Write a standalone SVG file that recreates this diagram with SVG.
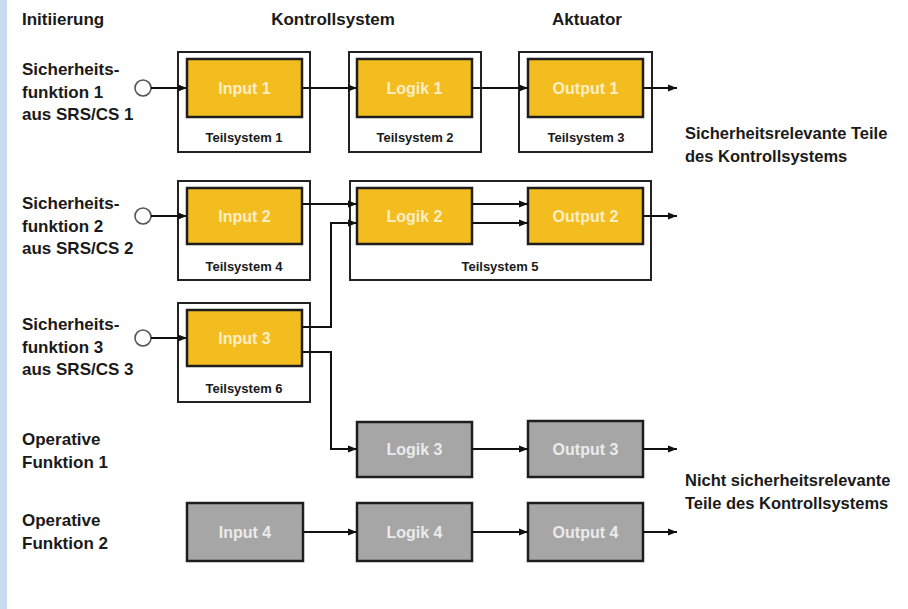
<svg xmlns="http://www.w3.org/2000/svg" width="908" height="609" viewBox="0 0 908 609">
<defs>
<marker id="ah" markerWidth="10" markerHeight="8" refX="9" refY="4" orient="auto" markerUnits="userSpaceOnUse">
<path d="M0,0.5 L9,4 L0,7.5 Z" fill="#111"/>
</marker>
<style>
.lbl{font-family:"Liberation Sans",Arial,sans-serif;font-weight:bold;font-size:17px;fill:#1a1a1a}
.hdr{font-family:"Liberation Sans",Arial,sans-serif;font-weight:bold;font-size:16.5px;fill:#1a1a1a}
.ts{font-family:"Liberation Sans",Arial,sans-serif;font-weight:bold;font-size:13px;fill:#1a1a1a;text-anchor:middle}
.bt{font-family:"Liberation Sans",Arial,sans-serif;font-weight:bold;font-size:16px;text-anchor:middle}
.outer{fill:#fff;stroke:#222;stroke-width:2}
.yel{fill:#f4bd1f;stroke:#1e1e1e;stroke-width:2.5}
.gry{fill:#a6a6a6;stroke:#1e1e1e;stroke-width:2.5}
.yt{fill:#fcefc6}
.gt{fill:#ebebeb}
.con{fill:none;stroke:#111;stroke-width:2;marker-end:url(#ah)}
.circ{fill:#fff;stroke:#555;stroke-width:1.6}
</style>
</defs>
<rect x="0" y="0" width="908" height="609" fill="#fff"/>
<rect x="0" y="0" width="7" height="609" fill="#c9dbf0"/>

<g id="headers">
<text class="lbl" x="22" y="25">Initiierung</text>
<text class="lbl" x="333" y="25" text-anchor="middle">Kontrollsystem</text>
<text class="lbl" x="587" y="25" text-anchor="middle">Aktuator</text>
</g>

<g id="labels-left">
<text class="lbl" x="22" y="75">Sicherheits-</text>
<text class="lbl" x="22" y="97.5">funktion 1</text>
<text class="lbl" x="22" y="120">aus SRS/CS 1</text>
<text class="lbl" x="22" y="209">Sicherheits-</text>
<text class="lbl" x="22" y="231.5">funktion 2</text>
<text class="lbl" x="22" y="254">aus SRS/CS 2</text>
<text class="lbl" x="22" y="330">Sicherheits-</text>
<text class="lbl" x="22" y="352.5">funktion 3</text>
<text class="lbl" x="22" y="375">aus SRS/CS 3</text>
<text class="lbl" x="22" y="445">Operative</text>
<text class="lbl" x="22" y="467.5">Funktion 1</text>
<text class="lbl" x="22" y="526">Operative</text>
<text class="lbl" x="22" y="548.5">Funktion 2</text>
</g>

<g id="labels-right">
<text class="hdr" x="685" y="139">Sicherheitsrelevante Teile</text>
<text class="hdr" x="685" y="162">des Kontrollsystems</text>
<text class="hdr" x="685" y="486">Nicht sicherheitsrelevante</text>
<text class="hdr" x="685" y="509">Teile des Kontrollsystems</text>
</g>

<g id="teilsystem1"><rect class="outer" x="178" y="52" width="132" height="100"/><text class="ts" x="244" y="142">Teilsystem 1</text></g>
<g id="teilsystem2"><rect class="outer" x="349" y="52" width="132" height="100"/><text class="ts" x="415" y="142">Teilsystem 2</text></g>
<g id="teilsystem3"><rect class="outer" x="519" y="52" width="133" height="100"/><text class="ts" x="586" y="142">Teilsystem 3</text></g>
<g id="teilsystem4"><rect class="outer" x="178" y="181" width="132" height="99"/><text class="ts" x="244" y="271">Teilsystem 4</text></g>
<g id="teilsystem5"><rect class="outer" x="350" y="181" width="301" height="99"/><text class="ts" x="500" y="271">Teilsystem 5</text></g>
<g id="teilsystem6"><rect class="outer" x="178" y="303" width="132" height="99"/><text class="ts" x="244" y="393">Teilsystem 6</text></g>

<g id="input1"><rect class="yel" x="187" y="59" width="115" height="58"/><text class="bt yt" x="244.5" y="94">Input 1</text></g>
<g id="logik1"><rect class="yel" x="357" y="59" width="115" height="58"/><text class="bt yt" x="414.5" y="94">Logik 1</text></g>
<g id="output1"><rect class="yel" x="528" y="59" width="115" height="58"/><text class="bt yt" x="585.5" y="94">Output 1</text></g>
<g id="input2"><rect class="yel" x="187" y="188" width="115" height="56"/><text class="bt yt" x="244.5" y="222">Input 2</text></g>
<g id="logik2"><rect class="yel" x="357" y="188" width="115" height="56"/><text class="bt yt" x="414.5" y="222">Logik 2</text></g>
<g id="output2"><rect class="yel" x="528" y="188" width="115" height="56"/><text class="bt yt" x="585.5" y="222">Output 2</text></g>
<g id="input3"><rect class="yel" x="187" y="310" width="115" height="56"/><text class="bt yt" x="244.5" y="344">Input 3</text></g>
<g id="logik3"><rect class="gry" x="357" y="422" width="115" height="55"/><text class="bt gt" x="414.5" y="455">Logik 3</text></g>
<g id="output3"><rect class="gry" x="528" y="421" width="115" height="56"/><text class="bt gt" x="585.5" y="455">Output 3</text></g>
<g id="input4"><rect class="gry" x="187" y="503" width="116" height="58"/><text class="bt gt" x="245" y="538">Input 4</text></g>
<g id="logik4"><rect class="gry" x="357" y="503" width="115" height="58"/><text class="bt gt" x="414.5" y="538">Logik 4</text></g>
<g id="output4"><rect class="gry" x="528" y="503" width="115" height="58"/><text class="bt gt" x="585.5" y="538">Output 4</text></g>

<g id="start1"><circle class="circ" cx="143" cy="88" r="8"/></g>
<g id="start2"><circle class="circ" cx="143" cy="216" r="8"/></g>
<g id="start3"><circle class="circ" cx="143" cy="338" r="8"/></g>

<g id="connectors">
<path class="con" d="M151,88 H187"/>
<path class="con" d="M302,88 H357"/>
<path class="con" d="M472,88 H528"/>
<path class="con" d="M643,88 H677"/>
<path class="con" d="M151,216 H187"/>
<path class="con" d="M302,204 H357"/>
<path class="con" d="M302,327 H331 V223 H357"/>
<path class="con" d="M472,204 H528"/>
<path class="con" d="M472,223 H528"/>
<path class="con" d="M643,216 H677"/>
<path class="con" d="M151,338 H187"/>
<path class="con" d="M302,352 H331 V449 H357"/>
<path class="con" d="M472,449 H528"/>
<path class="con" d="M643,449 H677"/>
<path class="con" d="M303,532 H357"/>
<path class="con" d="M472,532 H528"/>
<path class="con" d="M643,532 H677"/>
</g>
</svg>
